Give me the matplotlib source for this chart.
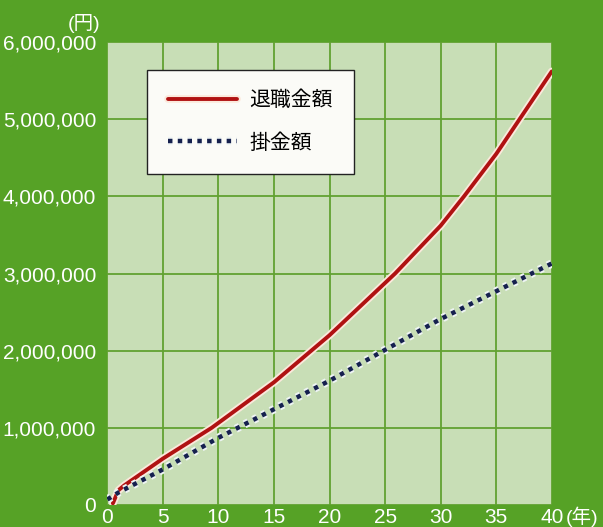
import matplotlib
matplotlib.use("Agg")
import matplotlib.pyplot as plt
import matplotlib.patheffects as pe
from matplotlib.ticker import FuncFormatter

plt.rcParams['font.family'] = ['Liberation Sans', 'Noto Sans CJK JP', 'DejaVu Sans']

# 退職金額 (retirement payout)
years_r = [0.5, 1, 1.5, 5, 9.4, 15, 20, 25.9, 30, 32.1, 35, 37.1, 40]
taishoku = [20000, 190000, 250000, 600000, 1000000, 1590000, 2200000, 3000000,
            3620000, 4000000, 4550000, 5000000, 5620000]

# 掛金額 (contributions)
years_k = [0, 1, 5, 10, 15, 20, 25, 30, 35, 40]
kakekin = [70000, 160000, 460000, 870000, 1240000, 1610000, 2010000, 2410000, 2770000, 3130000]

xticks = [0, 5, 10, 15, 20, 25, 30, 35, 40]
yticks = [0, 1000000, 2000000, 3000000, 4000000, 5000000, 6000000]

bg = '#56a226'
fig = plt.figure(figsize=(6.03, 5.27), dpi=100, facecolor=bg)
ax = fig.add_axes([0.178, 0.042, 0.737, 0.878])
ax.set_facecolor('#c8deb6')

ax.plot(years_r, taishoku, color='#b01212', lw=2.8, label='退職金額',
        solid_capstyle='round', solid_joinstyle='round',
        path_effects=[pe.Stroke(linewidth=5.5, foreground='#fbe9dc'), pe.Normal()])
ax.plot(years_k, kakekin, color='#15204e', lw=3.2, linestyle=(0, (1, 1.2)), label='掛金額',
        path_effects=[pe.Stroke(linewidth=6, foreground='#eef4f4'), pe.Normal()])

ax.set_xlim(0, 40)
ax.set_ylim(0, 6000000)
ax.set_xticks(xticks)
ax.set_yticks(yticks)
ax.yaxis.set_major_formatter(FuncFormatter(lambda v, p: f'{int(v):,}'))
ax.grid(True, color='#62a232', lw=1.3)
ax.set_axisbelow(True)
for s in ax.spines.values():
    s.set_visible(False)
ax.tick_params(length=0, colors='white', labelsize=15)
ax.tick_params(axis='y', pad=8)
ax.tick_params(axis='x', pad=2)

ax.text(-0.016, 1.02, '(円)', transform=ax.transAxes, color='white', fontsize=14,
        ha='right', va='bottom')
ax.text(1.031, -0.004, '(年)', transform=ax.transAxes, color='white', fontsize=14,
        ha='left', va='top')

leg = ax.legend(loc='upper left', bbox_to_anchor=(0.09, 0.94), fontsize=15, frameon=True,
                fancybox=False, handlelength=3.3, borderpad=1.0, labelspacing=1.1,
                handletextpad=0.6, borderaxespad=0)
leg.get_frame().set_facecolor('#fbfbf7')
leg.get_frame().set_edgecolor('#222222')
leg.get_frame().set_linewidth(1.0)
leg.get_frame().set_alpha(1)

fig.savefig('out.png', dpi=100, facecolor=bg)
